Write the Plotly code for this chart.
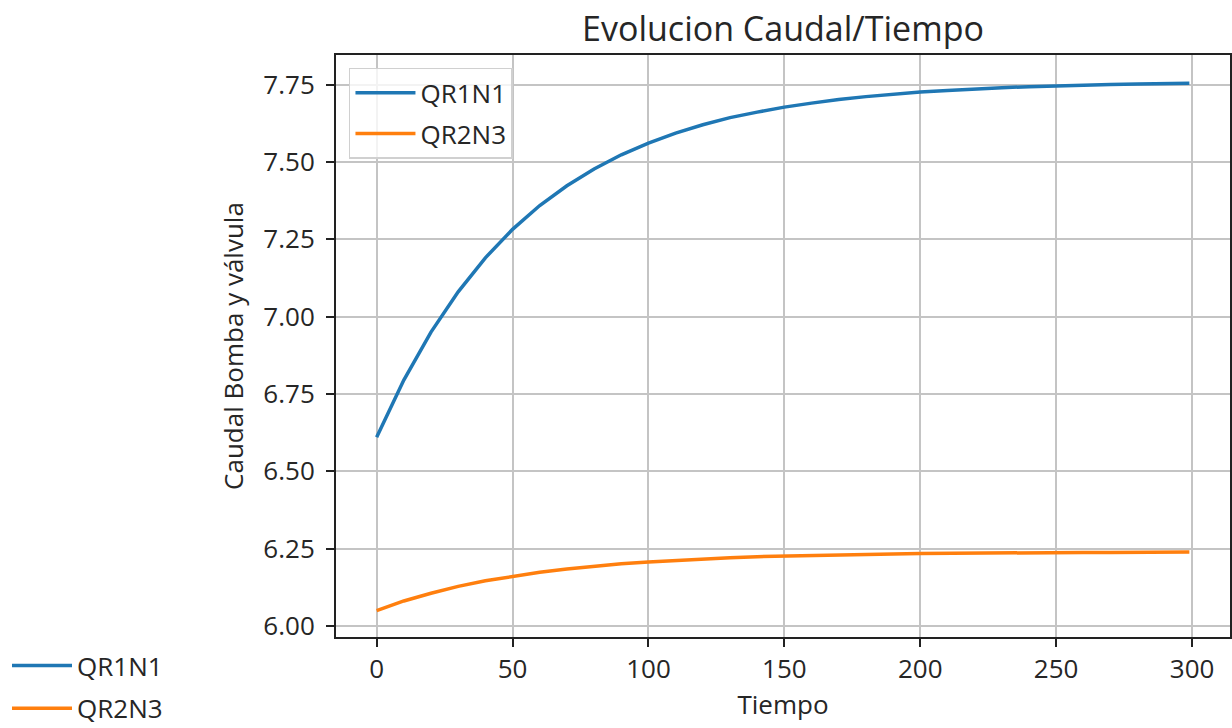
import plotly.graph_objects as go

# Sampled flow readings over time
tiempo = [0, 10, 20, 30, 40, 50, 60, 70, 80, 90, 100, 110, 120, 130, 140, 150,
          160, 170, 180, 190, 200, 210, 220, 230, 240, 250, 260, 270, 280, 290, 299]
qr1n1 = [6.610, 6.795, 6.950, 7.080, 7.190, 7.282, 7.359, 7.423, 7.477, 7.523,
         7.561, 7.593, 7.620, 7.643, 7.661, 7.677, 7.690, 7.702, 7.711, 7.719,
         7.726, 7.731, 7.736, 7.740, 7.743, 7.746, 7.748, 7.750, 7.752, 7.753, 7.754]
qr2n3 = [6.050, 6.081, 6.106, 6.128, 6.146, 6.161, 6.174, 6.184, 6.193, 6.201,
         6.207, 6.212, 6.217, 6.221, 6.224, 6.226, 6.229, 6.230, 6.232, 6.233,
         6.234, 6.235, 6.236, 6.237, 6.237, 6.238, 6.238, 6.238, 6.239, 6.239, 6.239]

series_names = ["QR1N1", "QR2N3"]
series_colors = ["#1f77b4", "#ff7f0e"]
x_ticks = [0, 50, 100, 150, 200, 250, 300]
y_ticks = [6.00, 6.25, 6.50, 6.75, 7.00, 7.25, 7.50, 7.75]

FONT = "Open Sans"
TEXT = "#262626"

fig = go.Figure()
for name, ys, color in zip(series_names, [qr1n1, qr2n3], series_colors):
    fig.add_trace(go.Scatter(
        x=tiempo, y=ys, mode="lines", name=name,
        line=dict(color=color, width=3.5), legendgroup=name, legend="legend",
    ))
# second key placed below, outside the axes
for name, color in zip(series_names, series_colors):
    fig.add_trace(go.Scatter(
        x=[None], y=[None], mode="lines", name=name,
        line=dict(color=color, width=3.5), legendgroup=name + "_b", legend="legend2",
        showlegend=True, hoverinfo="skip",
    ))

axis_common = dict(
    showline=True, linecolor="#222222", linewidth=2, mirror=True,
    ticks="outside", ticklen=8, tickwidth=2, tickcolor="#222222",
    showgrid=True, gridcolor="#c4c4c4", gridwidth=1.5, zeroline=False,
    tickfont=dict(family=FONT, size=26, color=TEXT), automargin=False,
)

fig.update_layout(
    width=1232, height=728,
    paper_bgcolor="white", plot_bgcolor="white",
    margin=dict(l=336, r=2, t=55, b=91),
    title=dict(text="Evolucion Caudal/Tiempo", x=(336 + 1230) / 2 / 1232, xanchor="center",
               y=1 - 29 / 728, yanchor="middle",
               font=dict(family=FONT, size=34, color=TEXT)),
    xaxis=dict(range=[-14.95, 313.95], tickvals=x_ticks, ticklabelstandoff=0,
               title=dict(text="Tiempo", font=dict(family=FONT, size=26, color=TEXT), standoff=6),
               **axis_common),
    yaxis=dict(range=[5.9645, 7.8455], tickvals=y_ticks, tickformat=".2f", ticklabelstandoff=6,
               title=dict(text="Caudal Bomba y válvula", font=dict(family=FONT, size=26, color=TEXT), standoff=12),
               **axis_common),
    legend=dict(x=0.0145, y=0.978, xanchor="left", yanchor="top",
                bgcolor="rgba(255,255,255,0.8)", bordercolor="#d0d0d0", borderwidth=1.5,
                font=dict(family=FONT, size=26, color=TEXT), tracegroupgap=4,
                itemwidth=60),
    legend2=dict(xref="container", yref="container", x=7 / 1232, y=1 - 642 / 728,
                 xanchor="left", yanchor="top",
                 bgcolor="rgba(255,255,255,0)", borderwidth=0,
                 font=dict(family=FONT, size=26, color=TEXT), tracegroupgap=6,
                 itemwidth=60),
)

fig.write_html("out.html")
